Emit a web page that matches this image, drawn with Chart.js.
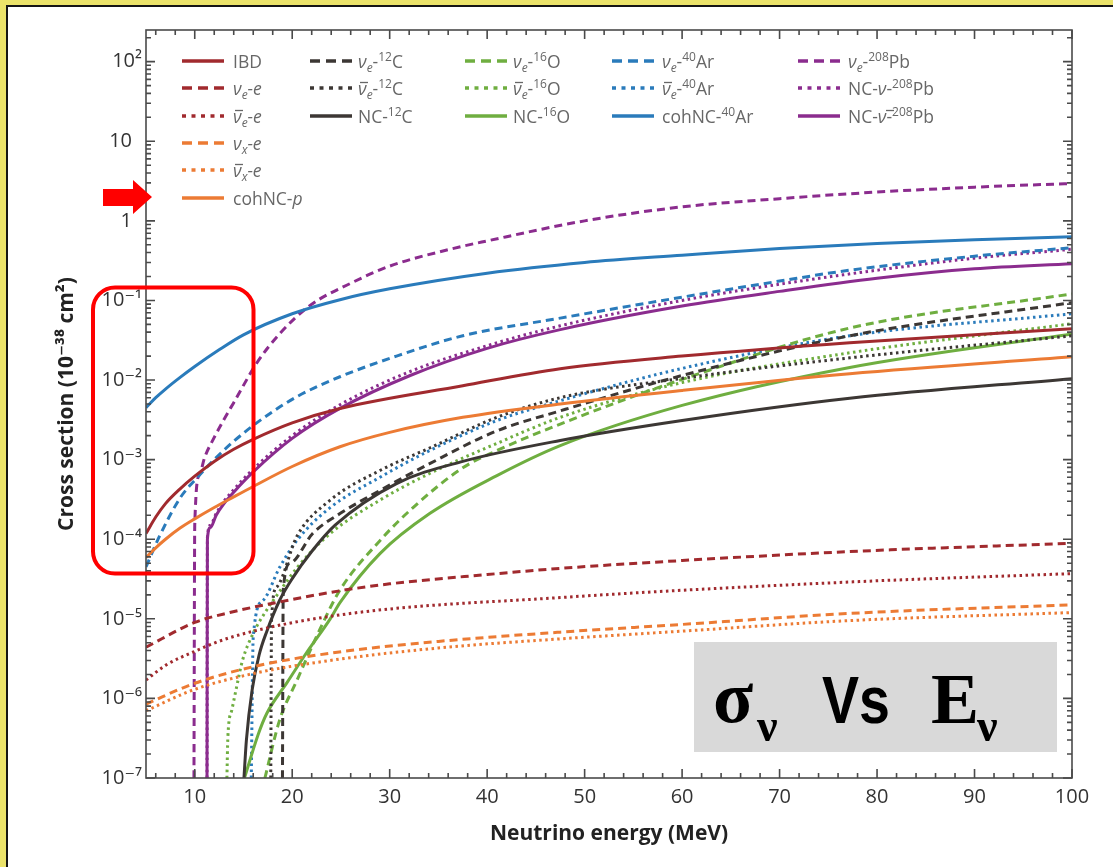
<!DOCTYPE html>
<html><head><meta charset="utf-8">
<script src="https://cdn.jsdelivr.net/npm/chart.js@4.4.1/dist/chart.umd.min.js"></script>
<style>
html,body{margin:0;padding:0;background:#fff;}
#wrap{position:relative;width:1113px;height:867px;overflow:hidden;background:#fff;}
canvas,svg{position:absolute;left:0;top:0;}
.yb{position:absolute;background:#ebe36a;}
.bk{position:absolute;background:#151515;}
</style></head><body>
<div id="wrap">
<canvas id="c" width="1113" height="867"></canvas>
<svg id="ov" width="1113" height="867" xmlns="http://www.w3.org/2000/svg"></svg>
<div class="yb" style="left:0;top:0;width:1113px;height:5px"></div>
<div class="yb" style="left:0;top:0;width:6px;height:867px"></div>
<div class="bk" style="left:6px;top:5px;width:1107px;height:2px"></div>
<div class="bk" style="left:6px;top:5px;width:2px;height:862px"></div>
</div>
<script>
// ---- axis ticks ----
const xTicks = [10,20,30,40,50,60,70,80,90,100];
const yTicks = [1e-7,1e-6,1e-5,1e-4,1e-3,1e-2,1e-1,1,10,100];
const yTickLabels = ['10⁻⁷','10⁻⁶','10⁻⁵','10⁻⁴','10⁻³','10⁻²','10⁻¹','1\u2002','10\u2002','10²'];

// ---- series (energy in MeV, cross section in 1e-38 cm^2) ----
const ibdE = [5, 6, 7, 8.5, 10, 12, 14, 16, 20, 24.9, 37.5, 47.5, 60, 77.2, 100];
const ibdS = [1.18e-4, 1.9e-4, 2.8e-4, 4.3e-4, 6.2e-4, 9.5e-4, 1.35e-3, 1.8e-3, 2.9e-3, 4.4e-3, 8.5e-3, 0.0139, 0.02, 0.0295, 0.044];

const nueEE = [5, 10, 13.6, 20, 24.9, 30, 40, 47.5, 60, 77.2, 100];
const nueES = [4.4e-6, 9e-6, 1.2e-5, 1.75e-5, 2.25e-5, 2.75e-5, 3.6e-5, 4.3e-5, 5.4e-5, 7.0e-5, 8.9e-5];

const anueEE = [5, 7, 10, 13.6, 24.9, 47.5, 77.2, 100];
const anueES = [1.7e-6, 2.6e-6, 3.9e-6, 5.8e-6, 1.12e-5, 1.85e-5, 2.9e-5, 3.7e-5];

const nuxEE = [5, 10, 16, 23.9, 35, 47.5, 60, 77.2, 100];
const nuxES = [8.5e-7, 1.55e-6, 2.5e-6, 3.7e-6, 5.2e-6, 6.8e-6, 8.5e-6, 1.17e-5, 1.5e-5];

const anuxEE = [5, 10, 16, 23.9, 35, 47.5, 60, 77.2, 100];
const anuxES = [7e-7, 1.3e-6, 2.05e-6, 3.0e-6, 4.3e-6, 5.6e-6, 7.0e-6, 9.5e-6, 1.2e-5];

const cohPE = [5, 6, 7, 8.5, 10, 12, 14, 16, 20, 24.9, 30, 37.5, 47.5, 60, 77.2, 100];
const cohPS = [5.9e-5, 7.8e-5, 1.0e-4, 1.38e-4, 1.8e-4, 2.5e-4, 3.4e-4, 4.6e-4, 8.2e-4, 1.45e-3, 2.2e-3, 3.4e-3, 5.0e-3, 7.4e-3, 0.012, 0.0196];

const nueCE = [19.0, 19.08, 19.8, 22.1, 24.9, 29, 34.1, 41, 47.5, 60, 77.2, 100];
const nueCS = [1e-7, 2.3e-5, 5e-5, 1.18e-4, 2.1e-4, 4.1e-4, 8.9e-4, 2.3e-3, 4.1e-3, 0.0114, 0.036, 0.094];

const anueCE = [17.8, 17.88, 18.4, 20.5, 23.9, 29, 34.1, 41, 47.5, 60, 77.2, 100];
const anueCS = [1e-7, 9.5e-6, 2.5e-5, 1.1e-4, 3.1e-4, 7.3e-4, 1.4e-3, 3.4e-3, 6e-3, 0.0105, 0.019, 0.036];

const ncCE = [15.05, 15.3, 15.9, 16.6, 17.4, 18.7, 20, 22, 24.4, 30.7, 37.5, 47.5, 60, 77.2, 100];
const ncCS = [1e-7, 3e-7, 1.3e-6, 3.5e-6, 7e-6, 1.7e-5, 3.2e-5, 7e-5, 1.5e-4, 5e-4, 9.5e-4, 1.74e-3, 3.1e-3, 5.9e-3, 0.0104];

const nueOE = [17.2, 18.7, 20.5, 22.8, 24.9, 29, 32.4, 37.5, 41, 47.5, 60, 77.2, 100];
const nueOS = [1e-7, 5.3e-7, 1.7e-6, 7.2e-6, 2.3e-5, 9.6e-5, 2.5e-4, 7.9e-4, 1.3e-3, 2.8e-3, 0.0102, 0.045, 0.121];

const anueOE = [13.3, 13.4, 13.8, 14.3, 14.9, 16.0, 17.4, 18.7, 20.5, 23.9, 29, 34.1, 41, 47.5, 60, 77.2, 100];
const anueOS = [1e-7, 3.3e-7, 7.1e-7, 1.4e-6, 3e-6, 6.6e-6, 1.3e-5, 2.2e-5, 4.4e-5, 1.18e-4, 3.1e-4, 6.7e-4, 1.6e-3, 3.4e-3, 0.0093, 0.022, 0.051];

const ncOE = [15.1, 16.5, 17.4, 19.5, 21.5, 23.9, 24.9, 29, 34.1, 41, 47.5, 60, 77.2, 100];
const ncOS = [1e-7, 3.5e-7, 6.5e-7, 1.6e-6, 3.8e-6, 1.0e-5, 1.6e-5, 6.6e-5, 2.1e-4, 6.3e-4, 1.5e-3, 4.8e-3, 0.0144, 0.038];

const nueArE = [5, 6.4, 8.5, 10, 12, 14, 17, 20.5, 24.9, 30.7, 37.5, 47.5, 60, 70, 77.2, 90, 100];
const nueArS = [4.5e-5, 1.1e-4, 3.3e-4, 5.5e-4, 1.0e-3, 1.7e-3, 3.3e-3, 6.2e-3, 0.011, 0.02, 0.036, 0.06, 0.11, 0.175, 0.24, 0.36, 0.46];

const anueArE = [15.8, 16.0, 17.0, 18.7, 20.5, 23.9, 29, 34.1, 41, 47.5, 60, 77.2, 100];
const anueArS = [1e-7, 5.9e-6, 1.7e-5, 4.4e-5, 9.7e-5, 2.5e-4, 6e-4, 1.3e-3, 3.1e-3, 5.5e-3, 0.014, 0.036, 0.068];

const cohArE = [5, 6, 7, 8.5, 10, 12.5, 15, 20, 25, 30, 40, 50, 60, 70, 80, 90, 100];
const cohArS = [4.5e-3, 6.0e-3, 7.7e-3, 0.0108, 0.0148, 0.024, 0.037, 0.068, 0.103, 0.14, 0.22, 0.3, 0.37, 0.45, 0.52, 0.58, 0.63];

const nuePbE = [9.92, 10.0, 10.5, 11.0, 12.0, 13.0, 14.0, 16.4, 18.7, 21.8, 25.9, 30, 36.2, 40, 50, 60, 70, 80, 90, 100];
const nuePbS = [1e-7, 1.5e-4, 6.5e-4, 1.05e-3, 1.9e-3, 3.2e-3, 5.2e-3, 0.0166, 0.038, 0.086, 0.162, 0.27, 0.44, 0.56, 1.0, 1.5, 1.9, 2.3, 2.65, 2.95];

const ncNuPbE = [11.26, 11.3, 11.6, 12.2, 13, 14, 16, 20, 24.9, 32.1, 40, 47.5, 60, 70, 80, 90, 100];
const ncNuPbS = [1e-7, 1.05e-4, 1.5e-4, 2.1e-4, 3.0e-4, 4.2e-4, 7.6e-4, 2.0e-3, 4.9e-3, 0.0128, 0.027, 0.048, 0.1, 0.16, 0.24, 0.34, 0.44];

const ncAnuPbE = [11.26, 11.3, 11.6, 12.2, 13, 14, 16, 20, 24.9, 32.1, 40, 47.5, 60, 70, 80, 90, 100];
const ncAnuPbS = [1e-7, 1.0e-4, 1.4e-4, 2.0e-4, 2.8e-4, 3.9e-4, 7.0e-4, 1.85e-3, 4.4e-3, 0.0114, 0.025, 0.043, 0.085, 0.13, 0.19, 0.25, 0.29];

// ---- styles ----
const RED = '#a12a2e', ORANGE = '#ec7b34', DARK = '#3c3734', GREEN = '#6fae40', BLUE = '#2a7bbb', PURPLE = '#8b2c8e';
const SOLID = [], DASH = [8, 5], DOT = [2.5, 3.5];

const it = s => `<tspan font-style="italic">${s}</tspan>`;
const sub = s => `<tspan dy="4" font-size="12" font-style="italic">${s}</tspan><tspan dy="-4">`;
const sup = s => `<tspan dy="-7" font-size="12">${s}</tspan><tspan dy="7">`;

// bar: x offset (from text start) of a ν that carries an over-bar, or null
const series = [
  {name:'IBD', lab:'IBD', E:ibdE, S:ibdS, c:RED, d:SOLID, col:0, row:0, bar:null},
  {name:'νe-e', lab:it('ν')+sub('e')+it('-e')+'</tspan>', E:nueEE, S:nueES, c:RED, d:DASH, col:0, row:1, bar:null},
  {name:'anti-νe-e', lab:it('ν')+sub('e')+it('-e')+'</tspan>', E:anueEE, S:anueES, c:RED, d:DOT, col:0, row:2, bar:0},
  {name:'νx-e', lab:it('ν')+sub('x')+it('-e')+'</tspan>', E:nuxEE, S:nuxES, c:ORANGE, d:DASH, col:0, row:3, bar:null},
  {name:'anti-νx-e', lab:it('ν')+sub('x')+it('-e')+'</tspan>', E:anuxEE, S:anuxES, c:ORANGE, d:DOT, col:0, row:4, bar:0},
  {name:'cohNC-p', lab:'cohNC-'+it('p'), E:cohPE, S:cohPS, c:ORANGE, d:SOLID, col:0, row:5, bar:null},
  {name:'νe-12C', lab:it('ν')+sub('e')+'-'+sup('12')+'C</tspan></tspan>', E:nueCE, S:nueCS, c:DARK, d:DASH, col:1, row:0, bar:null},
  {name:'anti-νe-12C', lab:it('ν')+sub('e')+'-'+sup('12')+'C</tspan></tspan>', E:anueCE, S:anueCS, c:DARK, d:DOT, col:1, row:1, bar:0},
  {name:'NC-12C', lab:'NC-'+sup('12')+'C</tspan>', E:ncCE, S:ncCS, c:DARK, d:SOLID, col:1, row:2, bar:null},
  {name:'νe-16O', lab:it('ν')+sub('e')+'-'+sup('16')+'O</tspan></tspan>', E:nueOE, S:nueOS, c:GREEN, d:DASH, col:2, row:0, bar:null},
  {name:'anti-νe-16O', lab:it('ν')+sub('e')+'-'+sup('16')+'O</tspan></tspan>', E:anueOE, S:anueOS, c:GREEN, d:DOT, col:2, row:1, bar:0},
  {name:'NC-16O', lab:'NC-'+sup('16')+'O</tspan>', E:ncOE, S:ncOS, c:GREEN, d:SOLID, col:2, row:2, bar:null},
  {name:'νe-40Ar', lab:it('ν')+sub('e')+'-'+sup('40')+'Ar</tspan></tspan>', E:nueArE, S:nueArS, c:BLUE, d:DASH, col:3, row:0, bar:null},
  {name:'anti-νe-40Ar', lab:it('ν')+sub('e')+'-'+sup('40')+'Ar</tspan></tspan>', E:anueArE, S:anueArS, c:BLUE, d:DOT, col:3, row:1, bar:0},
  {name:'cohNC-40Ar', lab:'cohNC-'+sup('40')+'Ar</tspan>', E:cohArE, S:cohArS, c:BLUE, d:SOLID, col:3, row:2, bar:null},
  {name:'νe-208Pb', lab:it('ν')+sub('e')+'-'+sup('208')+'Pb</tspan></tspan>', E:nuePbE, S:nuePbS, c:PURPLE, d:DASH, col:4, row:0, bar:null},
  {name:'NC-ν-208Pb', lab:'NC-'+it('ν')+'-'+sup('208')+'Pb</tspan>', E:ncNuPbE, S:ncNuPbS, c:PURPLE, d:DOT, col:4, row:1, bar:null},
  {name:'NC-anti-ν-208Pb', lab:'NC-'+it('ν')+'-'+sup('208')+'Pb</tspan>', E:ncAnuPbE, S:ncAnuPbS, c:PURPLE, d:SOLID, col:4, row:2, bar:36}
];

const TICKF = "'Open Sans', 'DejaVu Sans', sans-serif";
const TITLEF = "'Open Sans', 'DejaVu Sans', sans-serif";

const datasets = series.map(s => ({
  label: s.name,
  data: s.E.map((e, i) => ({x: e, y: s.S[i]})),
  borderColor: s.c, backgroundColor: s.c,
  borderDash: s.d, borderWidth: 3, borderCapStyle: 'butt',
  pointRadius: 0, fill: false, cubicInterpolationMode: 'monotone'
}));

const framePlugin = {
  id: 'frame',
  afterDatasetsDraw(chart) {
    const {ctx, chartArea: a, scales: {x, y}} = chart;
    ctx.save();
    ctx.strokeStyle = '#4a4a4a';
    ctx.lineWidth = 1.6;
    ctx.strokeRect(a.left, a.top, a.right - a.left, a.bottom - a.top);
    ctx.beginPath();
    for (let v = 6; v <= 100; v += 2) {
      const px = x.getPixelForValue(v);
      const L = v % 10 === 0 ? 9 : 5;
      ctx.moveTo(px, a.bottom); ctx.lineTo(px, a.bottom - L);
      ctx.moveTo(px, a.top); ctx.lineTo(px, a.top + L);
    }
    for (let e = -7; e <= 2; e++) {
      for (let m = 1; m <= 9; m++) {
        const v = m * Math.pow(10, e);
        if (v > y.max) break;
        const py = y.getPixelForValue(v);
        const L = m === 1 ? 9 : 5;
        ctx.moveTo(a.left, py); ctx.lineTo(a.left + L, py);
        ctx.moveTo(a.right, py); ctx.lineTo(a.right - L, py);
      }
    }
    ctx.stroke();
    ctx.restore();
  }
};

new Chart(document.getElementById('c').getContext('2d'), {
  type: 'line',
  data: {datasets},
  options: {
    responsive: false, animation: false, devicePixelRatio: 1,
    layout: {padding: {top: 30, right: 41, left: 0, bottom: 0}},
    plugins: {legend: {display: false}, tooltip: {enabled: false}},
    scales: {
      x: {
        type: 'linear', min: 5, max: 100,
        grid: {display: false, drawTicks: false}, border: {display: false},
        afterBuildTicks: s => { s.ticks = xTicks.map(v => ({value: v})); },
        afterFit: s => { s.height = 89; },
        ticks: {padding: 7, color: '#333', autoSkip: false, maxRotation: 0,
                font: {family: TICKF, size: 20}, callback: v => String(v)},
        title: {display: true, text: 'Neutrino energy (MeV)', color: '#222',
                font: {family: TITLEF, size: 21, weight: 'bold'}, padding: {top: 0, bottom: 20}}
      },
      y: {
        type: 'logarithmic', min: 1e-7, max: 250,
        grid: {display: false, drawTicks: false}, border: {display: false},
        afterBuildTicks: s => { s.ticks = yTicks.map(v => ({value: v})); },
        afterFit: s => { s.width = 146; },
        ticks: {padding: 4, color: '#333', autoSkip: false,
                font: {family: TICKF, size: 20}, callback: (v, i) => yTickLabels[i]},
        title: {display: true, text: 'Cross section (10⁻³⁸ cm²)', color: '#222',
                font: {family: TITLEF, size: 21, weight: 'bold'}, padding: {top: 54, bottom: 0}}
      }
    }
  },
  plugins: [framePlugin]
});

// ---- legend + annotations (SVG overlay) ----
const colLineX = [182, 310, 465, 612, 798];
const colTextX = [233, 358, 513, 662, 848];
const rowY = [61, 88, 116, 143, 170, 198];
let svg = '';
series.forEach(s => {
  const y = rowY[s.row];
  const x0 = colLineX[s.col];
  const tx = colTextX[s.col];
  const da = s.d === DASH ? '10 6' : (s.d === DOT ? '4 5.5' : '');
  svg += `<line x1="${x0}" y1="${y}" x2="${x0 + 42}" y2="${y}" stroke="${s.c}" stroke-width="3.5"${da ? ` stroke-dasharray="${da}"` : ''}/>`;
  svg += `<text x="${tx}" y="${y + 7}" font-family="'Open Sans', sans-serif" font-size="17.5" fill="#676767">${s.lab}</text>`;
  if (s.bar !== null) {
    const bx = tx + s.bar;
    svg += `<line x1="${bx + 2}" y1="${y - 5.5}" x2="${bx + 10}" y2="${y - 5.5}" stroke="#676767" stroke-width="1.3"/>`;
  }
});
// red arrow
svg += `<polygon points="103,189 133,189 133,180 152,197 133,214 133,206 103,206" fill="#ff0000"/>`;
// red rounded box
svg += `<rect x="93" y="287.5" width="160.5" height="286" rx="22" ry="22" fill="none" stroke="#ff0000" stroke-width="4"/>`;
// grey label box
svg += `<rect x="694" y="642" width="363" height="110" fill="#d9d9d9"/>`;
svg += `<text x="713" y="722" font-family="'Liberation Serif', serif" font-weight="bold" font-size="74" fill="#000">σ</text>`;
svg += `<text x="757" y="741" font-family="'Liberation Serif', serif" font-weight="bold" font-size="46" fill="#000">ν</text>`;
svg += `<text x="822" y="723" font-family="'Liberation Sans', sans-serif" font-weight="bold" font-size="66" fill="#000" textLength="68" lengthAdjust="spacingAndGlyphs">Vs</text>`;
svg += `<text x="931" y="723" font-family="'Liberation Serif', serif" font-weight="bold" font-size="72" fill="#000">E</text>`;
svg += `<text x="977" y="741" font-family="'Liberation Serif', serif" font-weight="bold" font-size="46" fill="#000">ν</text>`;
document.getElementById('ov').innerHTML = svg;
</script>
</body></html>
